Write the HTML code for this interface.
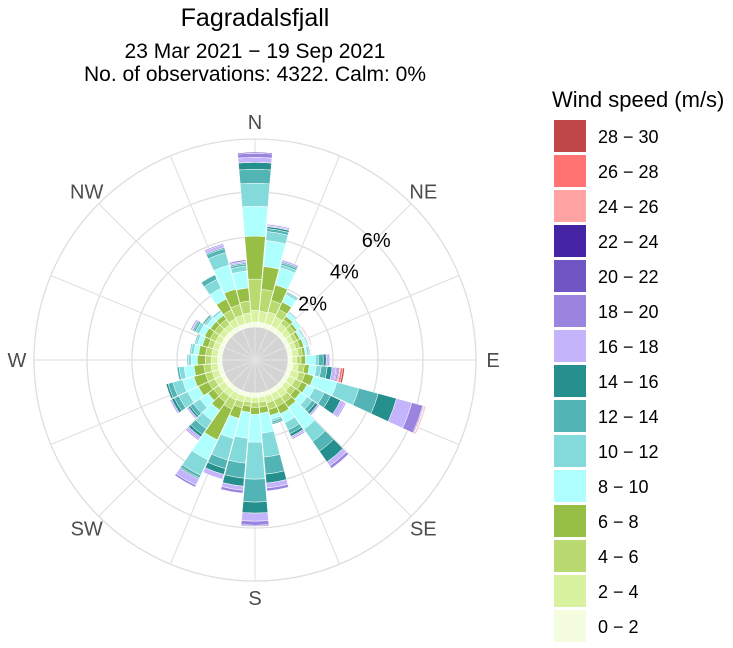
<!DOCTYPE html>
<html><head><meta charset="utf-8">
<style>
html,body{margin:0;padding:0;background:#fff;}
body{width:733px;height:643px;overflow:hidden;font-family:"Liberation Sans",Arial,sans-serif;}
</style></head>
<body>
<svg id="chart" width="733" height="643" viewBox="0 0 733 643" xmlns="http://www.w3.org/2000/svg">
  <text x="255" y="26" font-size="25" text-anchor="middle" fill="#000">Fagradalsfjall</text>
  <text x="255" y="58" font-size="21" text-anchor="middle" fill="#000">23  Mar 2021 − 19 Sep 2021</text>
  <text x="255" y="81" font-size="21" text-anchor="middle" fill="#000">No. of observations: 4322. Calm: 0%</text>
  <g id="grid"></g>
  <g id="bars"></g>
  <g id="labels"></g>
  <g id="legend"></g>
</svg>
<script>
const directions = [0,10,20,30,40,50,60,70,80,90,100,110,120,130,140,150,160,170,180,190,200,210,220,230,240,250,260,270,280,290,300,310,320,330,340,350];
const speedBins = ["0 − 2","2 − 4","4 − 6","6 − 8","8 − 10","10 − 12","12 − 14","14 − 16","16 − 18","18 − 20","20 − 22","22 − 24","24 − 26","26 − 28","28 − 30"];
const binColors = ["#f4fde0","#d8f2a0","#b8da70","#98bf45","#b0ffff","#84dada","#52b4b4","#248f8c","#c4b4fc","#9a84e0","#7056c4","#4424a4","#ffa3a3","#ff7373","#c04848"];
// frequency (%) per direction, bins 0-2 ... 28-30
const freq0   = [0.22,0.53,1.38,1.91,1.33,1.02,0.62,0.31,0.22,0.18,0.05];
const freq10  = [0.22,0.49,0.98,1.02,1.16,0.40,0.13,0.09,0.05,0.05];
const freq20  = [0.22,0.53,0.53,0.71,0.80,0.13,0.09,0.05,0.09];
const freq30  = [0.22,0.44,0.36,0.36,0.36,0.09,0.05];
const freq40  = [0.20,0.31,0.22,0.18,0.18,0.05,0.03];
const freq50  = [0.20,0.27,0.22,0.13,0.18,0.04,0.02];
const freq60  = [0.20,0.22,0.18,0.13,0.13,0.05,0.04,0.02,0.02,0.02,0.01,0.01,0.01,0.02,0.03];
const freq70  = [0.20,0.22,0.18,0.18,0.13,0.05,0.04,0.02,0.02,0.02,0.01,0.01,0.01,0.02,0.03];
const freq80  = [0.20,0.27,0.18,0.13,0.09,0.09,0.04,0.02,0.02,0.02];
const freq90  = [0.18,0.20,0.20,0.20,0.44,0.13,0.22,0.13,0.09,0.05,0.03];
const freq100 = [0.25,0.22,0.27,0.22,0.31,0.22,0.27,0.22,0.18,0.05,0.05,0.04,0.05,0.10,0.08];
const freq110 = [0.20,0.36,0.27,0.40,1.07,1.02,0.89,0.84,0.71,0.50,0.04,0.02,0.03,0.04,0.02];
const freq120 = [0.20,0.31,0.31,0.27,0.36,0.49,0.31,0.49,0.22,0.05];
const freq130 = [0.20,0.27,0.27,0.27,0.36,0.27,0.18,0.13,0.09];
const freq140 = [0.20,0.36,0.27,0.27,1.20,0.67,0.53,0.58,0.22,0.13];
const freq150 = [0.20,0.31,0.31,0.36,0.44,0.36,0.18,0.13,0.09,0.05];
const freq160 = [0.20,0.31,0.31,0.27,0.18,0.09,0.09,0.05];
const freq170 = [0.20,0.22,0.22,0.27,0.89,1.07,0.76,0.40,0.22,0.13];
const freq180 = [0.20,0.22,0.22,0.31,1.24,1.64,1.02,0.49,0.36,0.18,0.04];
const freq190 = [0.20,0.22,0.18,0.27,1.16,1.11,0.67,0.36,0.18,0.13];
const freq200 = [0.20,0.27,0.27,0.49,0.93,0.98,0.40,0.27,0.22];
const freq210 = [0.20,0.31,0.44,1.51,0.98,0.76,0.13,0.05,0.31,0.09];
const freq220 = [0.20,0.31,0.31,0.44,0.58,0.44,0.31,0.13,0.13,0.05];
const freq230 = [0.20,0.31,0.27,0.31,0.44,0.36,0.18,0.09,0.09];
const freq240 = [0.20,0.31,0.31,0.49,0.53,0.44,0.22,0.13,0.09];
const freq250 = [0.20,0.31,0.31,0.53,0.53,0.44,0.22,0.09];
const freq260 = [0.20,0.31,0.31,0.44,0.44,0.22,0.09];
const freq270 = [0.20,0.27,0.27,0.36,0.27,0.13,0.05];
const freq280 = [0.20,0.27,0.27,0.31,0.22,0.13,0.05];
const freq290 = [0.20,0.27,0.22,0.27,0.22,0.09,0.05];
const freq300 = [0.20,0.27,0.27,0.27,0.27,0.18,0.09,0.05,0.05,0.05];
const freq310 = [0.20,0.27,0.27,0.22,0.22,0.09,0.05,0.05];
const freq320 = [0.20,0.27,0.27,0.22,0.18,0.09];
const freq330 = [0.20,0.36,0.44,0.53,0.53,0.44,0.22];
const freq340 = [0.20,0.40,0.49,0.71,1.11,0.58,0.18,0.05,0.13,0.05];
const freq350 = [0.20,0.44,0.53,0.58,0.76,0.22,0.09,0.05,0.07,0.07];
const freqByDir = [freq0,freq10,freq20,freq30,freq40,freq50,freq60,freq70,freq80,freq90,freq100,freq110,freq120,freq130,freq140,freq150,freq160,freq170,freq180,freq190,freq200,freq210,freq220,freq230,freq240,freq250,freq260,freq270,freq280,freq290,freq300,freq310,freq320,freq330,freq340,freq350];
const gridTicks = [2,4,6];
const tickLabels = ["2%","4%","6%"];
const compassNames = ["N","NE","E","SE","S","SW","W","NW"];

const NS = "http://www.w3.org/2000/svg";
const cx = 255, cy = 360, r0 = 33, pxPerPct = 22.5, rOuter = 221;
function rScale(p){ return r0 + p * pxPerPct; }
function pt(deg, r){ const a = deg*Math.PI/180; return [cx + r*Math.sin(a), cy - r*Math.cos(a)]; }
function mk(tag, attrs, parent){ const e = document.createElementNS(NS, tag); for (const k in attrs) e.setAttribute(k, attrs[k]); parent.appendChild(e); return e; }

const grid = document.getElementById('grid');
let c = mk('circle', {cx:cx, cy:cy, r:rOuter, fill:'none', stroke:'#dedede', 'stroke-width':1.3}, grid);


gridTicks.forEach(t => {
  const g = mk('circle', {cx:cx, cy:cy, r:rScale(t), fill:'none', stroke:'#dedede', 'stroke-width':1.3}, grid);
  
  
});
const calm = mk('circle', {cx:cx, cy:cy, r:r0, fill:'#d4d4d4'}, grid);


for (let i = 0; i < 16; i++) {
  const [x, y] = pt(i*22.5, rOuter);
  const l = mk('line', {x1:cx, y1:cy, x2:x, y2:y, stroke:'#e2e2e2', 'stroke-width':1.2}, grid);
  
  
}

const bars = document.getElementById('bars');
const half = 4.8;
directions.forEach((d, i) => {
  let cum = 0;
  freqByDir[i].forEach((v, b) => {
    if (v <= 0) return;
    const ra = rScale(cum), rb = rScale(cum + v);
    cum += v;
    const a1 = d - half, a2 = d + half;
    const [x1,y1] = pt(a1, ra), [x2,y2] = pt(a1, rb), [x3,y3] = pt(a2, rb), [x4,y4] = pt(a2, ra);
    const path = `M${x1},${y1} L${x2},${y2} A${rb},${rb} 0 0 1 ${x3},${y3} L${x4},${y4} A${ra},${ra} 0 0 0 ${x1},${y1} Z`;
    const p = mk('path', {d:path, fill:binColors[b], stroke:'#fff', 'stroke-width':0.5}, bars);
    
    
  });
});

const labels = document.getElementById('labels');
compassNames.forEach((n, i) => {
  const [x, y] = pt(i*45, 238);
  const t = mk('text', {x:x, y:y+7, 'font-size':20, 'text-anchor':'middle', fill:'#4d4d4d'}, labels);
  t.textContent = n;
  
  
});
gridTicks.forEach((t, i) => {
  const [x, y] = pt(45, rScale(t) + 2);
  const e = mk('text', {x:x+1, y:y+7, 'font-size':20, 'text-anchor':'middle', fill:'#000'}, labels);
  e.textContent = tickLabels[i];
  
  
});

const legend = document.getElementById('legend');
const lt = mk('text', {x:552, y:107, 'font-size':22, fill:'#000'}, legend);
lt.textContent = 'Wind speed (m/s)';


for (let k = 0; k < speedBins.length; k++) {
  const b = speedBins.length - 1 - k;
  const y = 120 + k*35;
  const r = mk('rect', {x:554, y:y, width:32, height:32, fill:binColors[b]}, legend);
  
  
  const t = mk('text', {x:598, y:y+23, 'font-size':18, fill:'#000'}, legend);
  t.textContent = speedBins[b];
  
  
}
</script>
</body></html>
